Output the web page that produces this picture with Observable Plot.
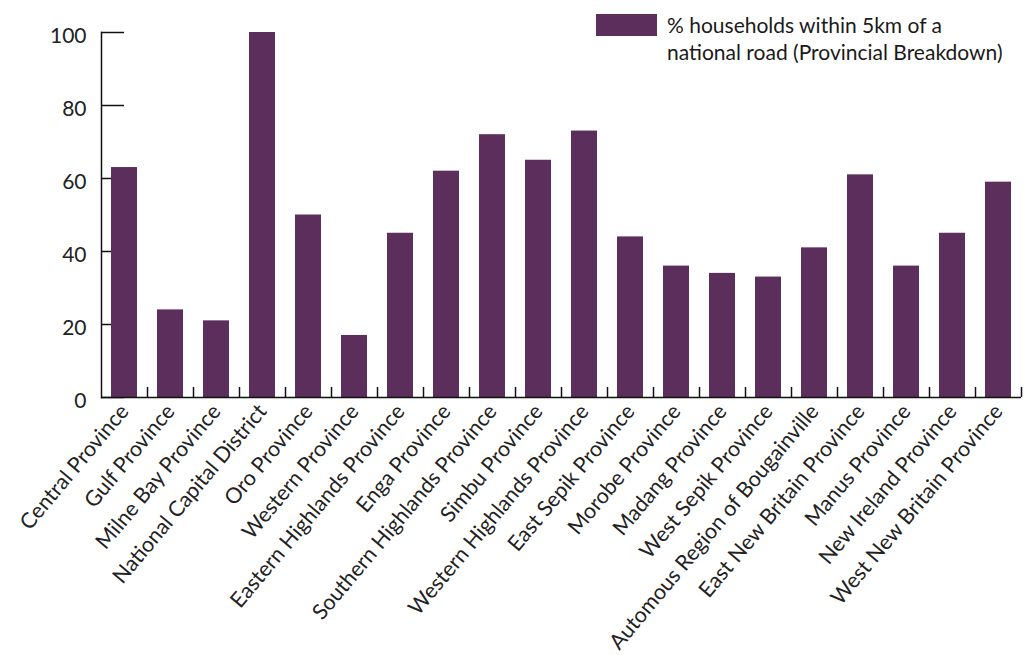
<!DOCTYPE html>
<html>
<head>
<meta charset="utf-8">
<script src="https://cdn.jsdelivr.net/npm/d3@7"></script>
<script src="https://cdn.jsdelivr.net/npm/@observablehq/plot@0.6"></script>
<style>
  html, body { margin: 0; padding: 0; background: #fff; }
  #wrap { position: relative; width: 1027px; height: 655px; }
  #legend { position: absolute; left: 596px; top: 11px; font-family: Lato, "Open Sans", sans-serif; font-size: 21px; color: #1a1a1a; line-height: 27px; }
  #legend .sw { position: absolute; left: 0; top: 3px; width: 61px; height: 22px; background: #5b2e5b; }
  #legend .tx { position: absolute; left: 71px; top: 0; white-space: nowrap; }
</style>
</head>
<body>
<div id="wrap"></div>
<script>
const provinces = [
  "Central Province", "Gulf Province", "Milne Bay Province", "National Capital District",
  "Oro Province", "Western Province", "Eastern Highlands Province", "Enga Province",
  "Southern Highlands Province", "Simbu Province", "Western Highlands Province",
  "East Sepik Province", "Morobe Province", "Madang Province", "West Sepik Province",
  "Automous Region of Bougainville", "East New Britain Province", "Manus Province",
  "New Ireland Province", "West New Britain Province"
];
const values = [63, 24, 21, 100, 50, 17, 45, 62, 72, 65, 73, 44, 36, 34, 33, 41, 61, 36, 45, 59];
const yTicks = [0, 20, 40, 60, 80, 100];
const seriesName = "% households within 5km of a national road (Provincial Breakdown)";
const legendLines = ["% households within 5km of a", "national road (Provincial Breakdown)"];

const data = provinces.map((p, i) => ({province: p, value: values[i]}));
const color = "#5b2e5b";

const chart = Plot.plot({
  width: 1027,
  height: 655,
  marginLeft: 101,
  marginRight: 6,
  marginTop: 32,
  marginBottom: 258,
  style: {fontFamily: "Lato, 'Open Sans', sans-serif", color: "#222", background: "#fff"},
  x: {domain: provinces, paddingInner: 0.43, paddingOuter: 0.215},
  y: {domain: [0, 100]},
  marks: [
    Plot.axisY({ticks: yTicks, tickSize: -23, tickFormat: () => "", label: null, stroke: "#111", strokeWidth: 1.5}),
    Plot.axisY({ticks: yTicks, tickSize: 0, tickPadding: 15, fontSize: 21, dy: 4, label: null}),
    Plot.barY(data, {x: "province", y: "value", fill: color, title: d => `${d.province}: ${d.value}%`}),
    Plot.ruleX(provinces, {x: d => d, y1: 0, y2: 0, insetTop: -10, dx: 23, stroke: "#111", strokeWidth: 1.5}),
    Plot.ruleY([0], {stroke: "#111", strokeWidth: 1.5}),
    Plot.frame({anchor: "left", stroke: "#111", strokeWidth: 1.5}),
    Plot.axisX({tickSize: 0, tickRotate: -50, tickPadding: 10, fontSize: 21.5, label: null})
  ]
});
document.getElementById("wrap").appendChild(chart);

const lg = document.createElement("div");
lg.id = "legend";
lg.setAttribute("aria-label", seriesName);
lg.innerHTML = `<div class="sw"></div><div class="tx">${legendLines.join("<br>")}</div>`;
document.getElementById("wrap").appendChild(lg);
</script>
</body>
</html>
